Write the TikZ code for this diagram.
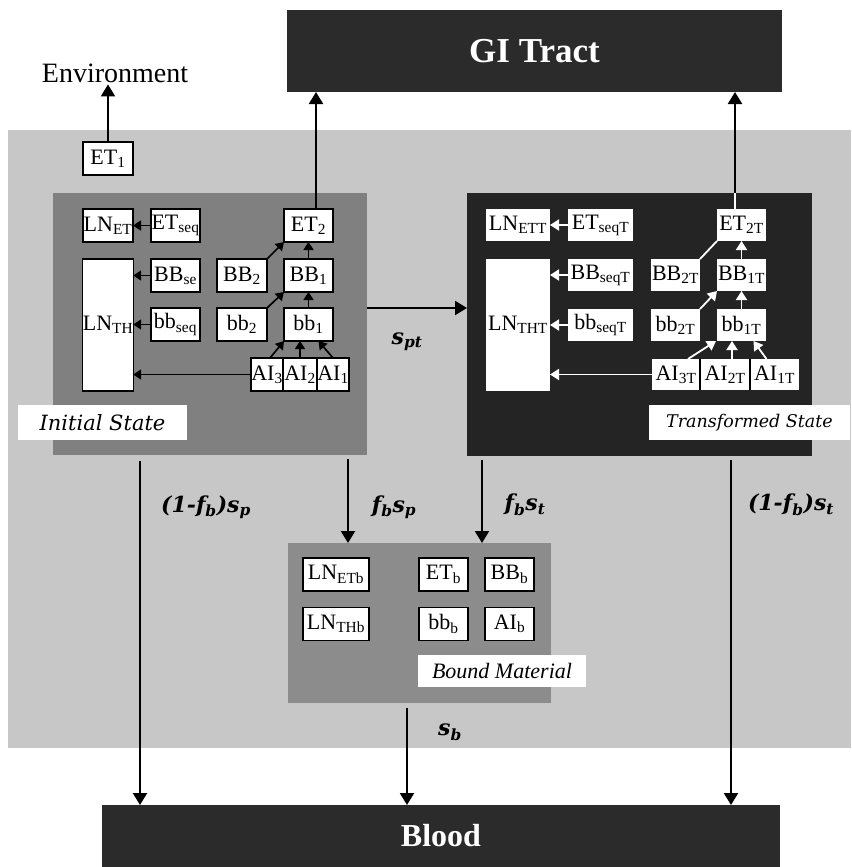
\documentclass[tikz,border=0pt]{standalone}
\usepackage{fontspec}
\setmainfont{Liberation Serif}
\newfontfamily\lblfont{DejaVu Serif}
\usetikzlibrary{arrows.meta}
\definecolor{bgc}{gray}{0.78}
\definecolor{isc}{gray}{0.5}
\definecolor{tsc}{gray}{0.14}
\definecolor{bmc}{gray}{0.55}
\definecolor{darkc}{gray}{0.17}
\begin{document}
\begin{tikzpicture}[x=1pt,y=-1pt,
  region/.style={draw=none,inner sep=0pt,outer sep=0pt},
  cbox/.style={draw=black,line width=1.3pt,fill=white,inner sep=0pt,outer sep=0pt,
    font=\fontsize{22}{23}\selectfont},
  lbl/.style={fill=white,inner sep=0pt,outer sep=0pt,
    font=\lblfont\itshape\fontsize{17.5}{19}\selectfont},
  flow/.style={font=\lblfont\bfseries\itshape\fontsize{22}{24}\selectfont,inner sep=0pt},
  bigarrow/.style={line width=2.2pt,-{Triangle[width=14pt,length=12pt]}},
  smallarrow/.style={line width=1.7pt,-{Triangle[width=10pt,length=8pt]}},
  warrow/.style={white,line width=1.8pt,-{Triangle[width=11pt,length=9pt]}}
]
\useasboundingbox (0,0) rectangle (851,867);
% regions
\node[region,fill=bgc,minimum width=843pt,minimum height=618pt] (bg) at (429.5,439) {};
\node[region,fill=darkc,minimum width=495pt,minimum height=82pt,text=white,
  font=\bfseries\fontsize{35}{37}\selectfont] (GI) at (534.5,51) {GI Tract};
\node[region,fill=darkc,minimum width=678pt,minimum height=62pt,text=white,
  font=\bfseries\fontsize{32}{34}\selectfont] (Blood) at (441,836) {Blood};
\node[region,fill=isc,minimum width=314pt,minimum height=262pt] (IS) at (210,324) {};
\node[region,fill=tsc,minimum width=345pt,minimum height=263pt] (TS) at (639.5,324.5) {};
\node[region,fill=bmc,minimum width=263pt,minimum height=160pt] (BM) at (419.5,623) {};
% labels of regions
\node[lbl,minimum width=169pt,minimum height=35pt,
  font=\lblfont\itshape\fontsize{21}{23}\selectfont] (ISl) at (102.5,422.5) {Initial State};
\node[lbl,minimum width=201pt,minimum height=35pt] (TSl) at (749.5,422.5) {Transformed State};
\node[fill=white,inner sep=0pt,outer sep=0pt,minimum width=168pt,minimum height=32pt,
  font=\itshape\fontsize{22}{24}\selectfont] (BMl) at (502,671) {Bound Material};
% environment
\node[inner sep=2pt,outer sep=0pt,font=\fontsize{28}{30}\selectfont] (Env) at (115,73) {Environment};
\node[cbox,minimum width=50pt,minimum height=33pt] (ET1) at (108,158.5) {ET\textsubscript{1}};
\draw[bigarrow] (ET1.north) -- (ET1.north |- Env.south);
% initial state boxes
\begin{scope}[every node/.style={cbox,minimum width=49pt,minimum height=33pt}]
\node[minimum width=50pt] (LNET) at (108,225.5) {LN\textsubscript{ET}};
\node (ETseq) at (175.5,225.5) {ET\textsubscript{seq}};
\node[minimum width=50pt,minimum height=132pt] (LNTH) at (108,325) {LN\textsubscript{TH}};
\node (BBse) at (175.5,275.5) {BB\textsubscript{se}};
\node (bbseq) at (175.5,324.5) {bb\textsubscript{seq}};
\node[minimum width=50pt] (BB2) at (242,275.5) {BB\textsubscript{2}};
\node[minimum width=50pt] (bb2) at (242,324.5) {bb\textsubscript{2}};
\node (ET2) at (308.5,225.5) {ET\textsubscript{2}};
\node (BB1) at (308.5,275.5) {BB\textsubscript{1}};
\node (bb1) at (308.5,324.5) {bb\textsubscript{1}};
\node[minimum width=32pt] (AI3) at (267,374.5) {AI\textsubscript{3}};
\node[minimum width=34pt] (AI2) at (300,374.5) {AI\textsubscript{2}};
\node[minimum width=32pt] (AI1) at (333,374.5) {AI\textsubscript{1}};
\end{scope}
% transformed state boxes
\begin{scope}[every node/.style={cbox,draw=none,minimum width=49pt,minimum height=32pt}]
\node[minimum width=64pt] (LNETT) at (518,225) {LN\textsubscript{ETT}};
\node[minimum width=65pt] (ETseqT) at (600.5,225) {ET\textsubscript{seqT}};
\node[minimum width=64pt,minimum height=132pt] (LNTHT) at (518,325) {LN\textsubscript{THT}};
\node[minimum width=65pt] (BBseqT) at (600.5,275) {BB\textsubscript{seqT}};
\node[minimum width=65pt] (bbseqT) at (600.5,325) {bb\textsubscript{seqT}};
\node (BB2T) at (675.5,275) {BB\textsubscript{2T}};
\node (bb2T) at (675.5,325) {bb\textsubscript{2T}};
\node (ET2T) at (741.5,225) {ET\textsubscript{2T}};
\node (BB1T) at (741.5,275) {BB\textsubscript{1T}};
\node (bb1T) at (741.5,325) {bb\textsubscript{1T}};
\node[minimum width=48pt,minimum height=31pt] (AI3T) at (676,374.5) {AI\textsubscript{3T}};
\node[minimum width=50pt,minimum height=31pt] (AI2T) at (725,374.5) {AI\textsubscript{2T}};
\node[minimum width=49pt,minimum height=31pt] (AI1T) at (774.5,374.5) {AI\textsubscript{1T}};
\end{scope}
\draw[black,line width=1.2pt] (AI3T.north east) -- (AI3T.south east) (AI2T.north east) -- (AI2T.south east);
% bound material boxes
\begin{scope}[every node/.style={cbox,minimum width=49pt,minimum height=33pt}]
\node[minimum width=66pt] (LNETb) at (336,574.5) {LN\textsubscript{ETb}};
\node[minimum width=66pt] (LNTHb) at (336,624) {LN\textsubscript{THb}};
\node (ETb) at (443.5,574.5) {ET\textsubscript{b}};
\node (BBb) at (509.5,574.5) {BB\textsubscript{b}};
\node (bbb) at (443.5,624) {bb\textsubscript{b}};
\node (AIb) at (509.5,624) {AI\textsubscript{b}};
\end{scope}
% arrows inside initial state
\draw[smallarrow] (ETseq.west) -- (LNET.east);
\draw[smallarrow] (BBse.west) -- (BBse.west -| LNTH.east);
\draw[smallarrow] (bbseq.west) -- (bbseq.west -| LNTH.east);
\draw[smallarrow] (AI3.west) -- (AI3.west -| LNTH.east);
\draw[smallarrow] (BB2.north east) -- (ET2.south west);
\draw[smallarrow] (bb2.north east) -- (BB1.south west);
\draw[smallarrow] (BB1.north) -- (ET2.south);
\draw[smallarrow] (bb1.north) -- (BB1.south);
\draw[smallarrow] ([xshift=3pt]AI3.north) -- (bb1.south west);
\draw[smallarrow] (AI2.north) -- (AI2.north |- bb1.south);
\draw[smallarrow] (AI1.north) -- ([xshift=10pt]bb1.south);
% arrows inside transformed state
\draw[warrow] (ETseqT.west) -- (LNETT.east);
\draw[warrow] (BBseqT.west) -- (BBseqT.west -| LNTHT.east);
\draw[warrow] (bbseqT.west) -- (bbseqT.west -| LNTHT.east);
\draw[warrow] (AI3T.west) -- (AI3T.west -| LNTHT.east);
\draw[white,line width=1.8pt] (BB2T.north east) -- (ET2T.south west);
\draw[warrow] (bb2T.north east) -- (BB1T.south west);
\draw[warrow] (BB1T.north) -- (ET2T.south);
\draw[warrow] (bb1T.north) -- (BB1T.south);
\draw[warrow] ([xshift=12pt]AI3T.north) -- ([xshift=-1pt]bb1T.south west);
\draw[warrow] ([xshift=7pt]AI2T.north) -- ([xshift=7pt]AI2T.north |- bb1T.south);
\draw[warrow] ([xshift=-8pt]AI1T.north) -- ([xshift=12pt]bb1T.south);
% arrows to GI tract
\coordinate (g1) at ([xshift=7.5pt]ET2.north);
\coordinate (g2) at ([xshift=-6.5pt]ET2T.north);
\draw[bigarrow] (g1) -- (g1 |- GI.south);
\draw[bigarrow] (g2) -- (g2 |- GI.south);
\draw[white,line width=1.8pt] (g2) -- (g2 |- TS.north);
% s_pt
\coordinate (p0) at ([yshift=16pt]IS.east);
\draw[bigarrow] (p0) -- (p0 -| TS.west);
\node[flow] (spt) at (407,342) {s\textsubscript{pt}};
% downward flows
\coordinate (d1) at ([xshift=-70pt,yshift=-6pt]IS.south);
\coordinate (d2) at ([xshift=138pt,yshift=-4pt]IS.south);
\coordinate (d3) at ([xshift=-157.5pt,yshift=-4pt]TS.south);
\coordinate (d4) at ([xshift=91.5pt,yshift=-4pt]TS.south);
\coordinate (d5) at ([xshift=-12.5pt,yshift=-5pt]BM.south);
\draw[bigarrow] (d1) -- (d1 |- Blood.north);
\draw[bigarrow] (d2) -- (d2 |- BM.north);
\draw[bigarrow] (d3) -- (d3 |- BM.north);
\draw[bigarrow] (d4) -- (d4 |- Blood.north);
\draw[bigarrow] (d5) -- (d5 |- Blood.north);
\node[flow] (l1) at (206,507) {(1-f\textsubscript{b})s\textsubscript{p}};
\node[flow] (l2) at (394,507) {f\textsubscript{b}s\textsubscript{p}};
\node[flow] (l3) at (525,505) {f\textsubscript{b}s\textsubscript{t}};
\node[flow] (l4) at (791,505) {(1-f\textsubscript{b})s\textsubscript{t}};
\node[flow] (l5) at (450,732) {s\textsubscript{b}};
\end{tikzpicture}
\end{document}
